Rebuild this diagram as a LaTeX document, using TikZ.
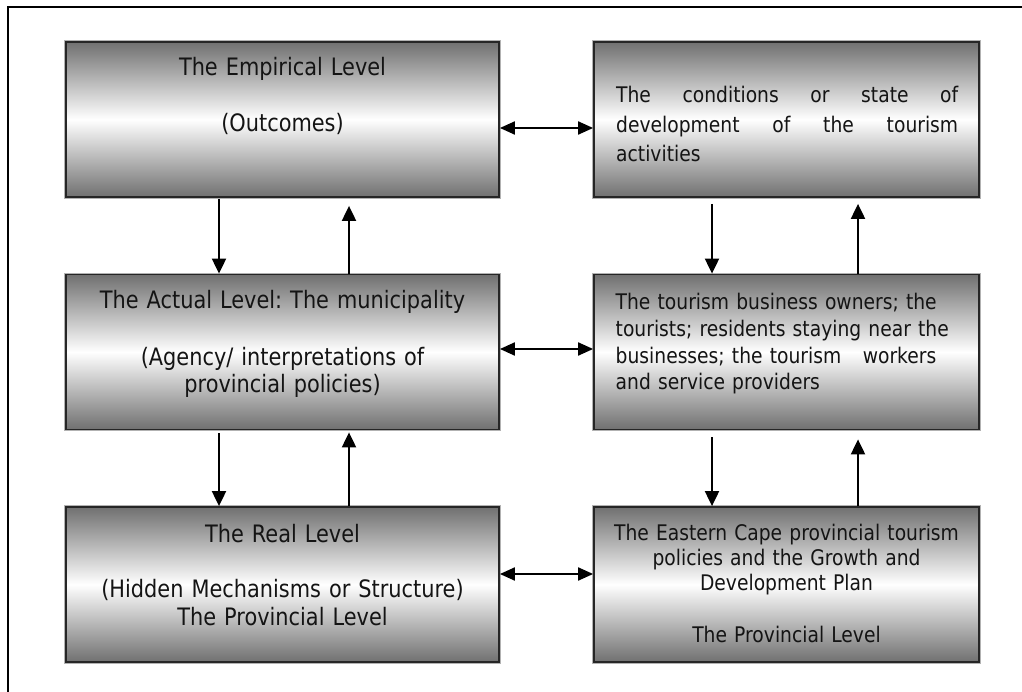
\documentclass[tikz,border=0pt]{standalone}
\usepackage{fontspec}
\setmainfont{DejaVu Sans}[FakeStretch=0.87]
\usetikzlibrary{arrows.meta}
\frenchspacing
\begin{document}
\begin{tikzpicture}[x=1pt,y=-1pt,
  box/.style={draw=black!85, line width=1.8pt, preaction={draw=black!30, line width=3.4pt},
    top color=black!56, bottom color=black!56, middle color=white,
    inner sep=0pt, minimum height=155pt},
  lbox/.style={box, minimum width=433pt},
  rbox/.style={box, minimum width=385pt},
  ltext/.style={font=\fontsize{24pt}{28pt}\selectfont, text=black!92, text width=430pt,
    align=center, inner sep=0pt, anchor=base},
  rtext/.style={font=\fontsize{21.5pt}{26pt}\selectfont, text=black!92, inner sep=0pt},
  arr/.style={-{Triangle[length=15pt,width=14pt]}, line width=2pt},
  darr/.style={{Triangle[length=15pt,width=13pt]}-{Triangle[length=15pt,width=13pt]}, line width=2pt}]
\useasboundingbox (0,0) rectangle (1022,692);
\draw[line width=1.6pt] (8,705) -- (8,7) -- (1035,7);

% boxes
\node[lbox] (A) at (282.5,119.5) {};
\node[rbox] (B) at (786.5,119.5) {};
\node[lbox] (C) at (282.5,352) {};
\node[rbox] (D) at (786.5,352) {};
\node[lbox] (E) at (282.5,584.5) {};
\node[rbox] (F) at (786.5,584.5) {};

% texts
\node[ltext] (tA) at (282.5,76) {The Empirical Level\\[28pt](Outcomes)};
\node[ltext] (tC) at (282.5,309) {The Actual Level: The municipality\\[28pt](Agency/ interpretations of\\provincial policies)};
\node[ltext] (tE) at (282.5,542) {The Real Level\\[27pt](Hidden Mechanisms or Structure)\\The Provincial Level};
\node[rtext, font=\fontsize{21.5pt}{29.5pt}\selectfont, text width=342pt, align=justify, anchor=base west] (tB) at (616,103)
  {\tolerance=10000\hyphenpenalty=10000 The conditions or state of\linebreak development of the tourism\linebreak activities};
\node[rtext, font=\fontsize{21.5pt}{26.6pt}\selectfont, text width=360pt, align=left, anchor=base west] (tD) at (615.5,310)
  {The tourism business owners; the\\tourists; residents staying near the\\businesses; the tourism\ \ \ workers\\and service providers};
\node[rtext, font=\fontsize{21.5pt}{25pt}\selectfont, text width=380pt, align=center, anchor=base] (tF) at (786.5,540)
  {The Eastern Cape provincial tourism\\policies and the Growth and\\Development Plan\\[27pt]The Provincial Level};

% column coordinates
\coordinate (xL1) at (219,0);
\coordinate (xL2) at (349,0);
\coordinate (xR1) at (712,0);
\coordinate (xR2) at (858,0);
\coordinate (y1) at (0,128);
\coordinate (y2) at (0,349);
\coordinate (y3) at (0,574);

% vertical arrows, left
\draw[arr, shorten <=1pt] (A.south -| xL1) -- (C.north -| xL1);
\draw[arr, shorten >=8pt] (C.north -| xL2) -- (A.south -| xL2);
\draw[arr, shorten <=3pt] (C.south -| xL1) -- (E.north -| xL1);
\draw[arr, shorten >=2pt] (E.north -| xL2) -- (C.south -| xL2);
% vertical arrows, right
\draw[arr, shorten <=6pt] (B.south -| xR1) -- (D.north -| xR1);
\draw[arr, shorten >=6pt] (D.north -| xR2) -- (B.south -| xR2);
\draw[arr, shorten <=7pt] (D.south -| xR1) -- (F.north -| xR1);
\draw[arr, shorten >=9pt] (F.north -| xR2) -- (D.south -| xR2);
% horizontal arrows
\draw[darr] (A.east |- y1) -- (B.west |- y1);
\draw[darr] (C.east |- y2) -- (D.west |- y2);
\draw[darr] (E.east |- y3) -- (F.west |- y3);
\end{tikzpicture}
\end{document}
